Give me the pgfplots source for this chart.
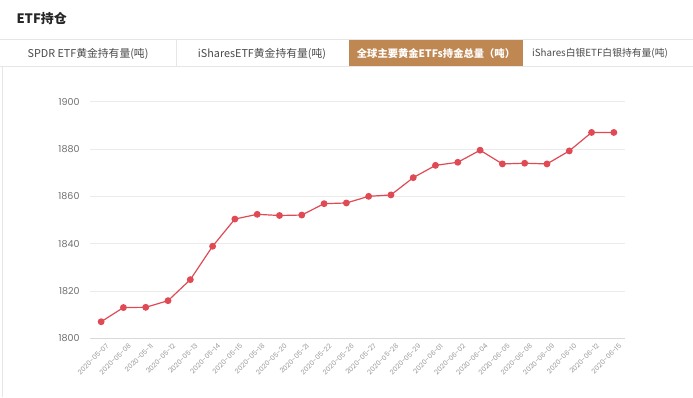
\documentclass[border=0pt]{standalone}
\usepackage{pgfplots}
\pgfplotsset{compat=1.18}
\usepackage{fontspec}
\setmainfont{Noto Sans CJK SC}
\newfontfamily\tickfont{Poppins}
\definecolor{linered}{HTML}{DF4A55}
\definecolor{tabbrown}{HTML}{BF8752}
\definecolor{tabline}{HTML}{E6E6E6}
\definecolor{tabtext}{HTML}{4A4A4A}
\definecolor{ticktext}{HTML}{6E6E6E}
\definecolor{xticktext}{HTML}{999999}
\begin{document}
\begin{tikzpicture}[x=1pt,y=1pt]
\path[use as bounding box, fill=white] (0,0) rectangle (693,397);
% title
\node[anchor=west, font=\fontsize{13}{15}\selectfont\bfseries, text=black!85] at (13,378) {ETF持仓};
% tab strip
\fill[tabbrown] (349,330) rectangle (523,358);
\draw[tabline, line width=1pt] (0,357.5) -- (693,357.5);
\draw[tabline, line width=1pt] (0,330) -- (693,330);
\draw[tabline, line width=1pt] (176,330) -- (176,357.5);
\draw[tabline, line width=0.8pt] (2,0) -- (2,330);
\node[font=\fontsize{10.8}{13}\selectfont, text=tabtext] at (88,343.5) {SPDR ETF黄金持有量(吨)};
\node[font=\fontsize{10.8}{13}\selectfont, text=tabtext] at (262,343.5) {iSharesETF黄金持有量(吨)};
\node[font=\fontsize{10.3}{13}\selectfont\bfseries, text=white] at (436,343.5) {全球主要黄金ETFs持金总量（吨）};
\node[font=\fontsize{9.8}{13}\selectfont, text=tabtext] at (600,343.5) {iShares白银ETF白银持有量(吨)};
\begin{axis}[
  at={(90pt,58.7pt)}, anchor=south west,
  scale only axis, width=535pt, height=236.6pt,
  xmin=-0.5, xmax=23.5, ymin=1800, ymax=1900,
  ytick={1800,1820,1840,1860,1880,1900},
  xtick={0,...,23},
  xticklabels={2020-05-07,2020-05-08,2020-05-11,2020-05-12,2020-05-13,2020-05-14,2020-05-15,2020-05-18,2020-05-20,2020-05-21,2020-05-22,2020-05-26,2020-05-27,2020-05-28,2020-05-29,2020-06-01,2020-06-02,2020-06-04,2020-06-05,2020-06-08,2020-06-09,2020-06-10,2020-06-12,2020-06-15},
  axis line style={draw=none},
  major tick length=0pt,
  ymajorgrids, grid style={color=black!8, line width=0.8pt},
  /pgf/number format/1000 sep={},
  /pgf/number format/assume math mode=true,
  yticklabel style={font=\tickfont\fontsize{9.5}{11}\selectfont, text=ticktext, xshift=-7pt},
  xticklabel style={font=\tickfont\fontsize{6.8}{8}\selectfont, text=xticktext, rotate=45, anchor=east, yshift=-9pt, xshift=1pt, inner sep=1pt},
  clip=false,
]
\draw[color=blue!10!black!15, line width=0.8pt] (rel axis cs:0,0) -- (rel axis cs:1,0);
\addplot[color=linered, line width=1.2pt, mark=*, mark size=2.8pt, mark options={fill=linered, draw=linered}] coordinates {
(0,1807.0) (1,1813.0) (2,1813.1) (3,1815.9) (4,1824.8) (5,1838.9) (6,1850.4) (7,1852.4) (8,1851.9) (9,1852.1) (10,1856.9) (11,1857.2) (12,1860.0) (13,1860.6) (14,1867.9) (15,1873.1) (16,1874.4) (17,1879.5) (18,1873.7) (19,1874.0) (20,1873.7) (21,1879.2) (22,1887.0) (23,1887.0)
};
\end{axis}
\end{tikzpicture}
\end{document}
